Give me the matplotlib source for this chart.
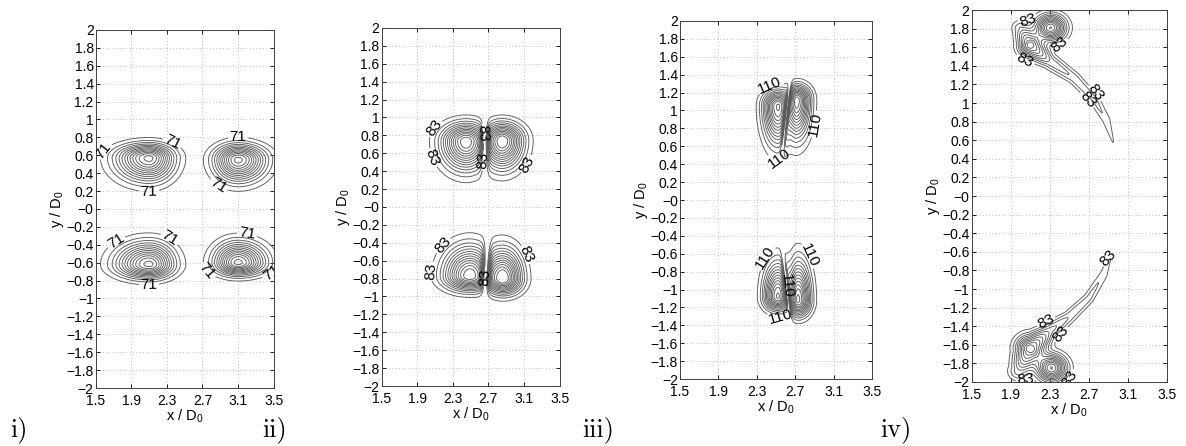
import numpy as np
import matplotlib.pyplot as plt

plt.rcParams["font.family"] = ["Liberation Sans", "DejaVu Sans"]
plt.rcParams["mathtext.fontset"] = "custom"
plt.rcParams["mathtext.rm"] = "Liberation Sans"
plt.rcParams["mathtext.it"] = "Liberation Sans"

# vortex cores: (cx, cy, amp, sx_left, sx_right, sy_down, sy_up)
BLOBS_I = [
    (2.10, 0.57, 950, 0.24, 0.18, 0.165, 0.10),
    (3.10, 0.55, 950, 0.17, 0.20, 0.155, 0.11),
    (2.10, -0.62, 950, 0.24, 0.18, 0.10, 0.155),
    (3.10, -0.60, 950, 0.17, 0.20, 0.09, 0.145),
]
BLOBS_II = [
    (2.45, 0.73, 1150, 0.18, 0.15, 0.20, 0.13),
    (2.86, 0.74, 1150, 0.12, 0.15, 0.195, 0.125),
    (2.49, -0.77, 1150, 0.19, 0.15, 0.105, 0.21),
    (2.87, -0.80, 1150, 0.12, 0.135, 0.11, 0.21),
]
BLOBS_III = [
    (2.52, 1.05, 1450, 0.10, 0.08, 0.27, 0.11),
    (2.72, 1.12, 1450, 0.06, 0.09, 0.27, 0.105),
    (2.52, -1.08, 1450, 0.095, 0.07, 0.10, 0.24),
    (2.73, -1.12, 1450, 0.06, 0.085, 0.115, 0.28),
]
BLOBS_IV = [
    (2.31, 1.81, 1000, 0.10, 0.10, 0.09, 0.09),
    (2.32, -1.85, 1000, 0.10, 0.10, 0.095, 0.095),
]

# dividing lines between paired lobes: (x0, y0, slope dx/dy, width)
GAPS_II = [(2.66, 0.72, 0.0, 0.03), (2.67, -0.78, 0.05, 0.03)]
GAPS_III = [(2.62, 1.08, 0.1, 0.014), (2.62, -1.08, -0.1, 0.014)]

# stretched filaments in the last frame: path points, amplitude, width
TAIL_UP_X = [2.00, 2.10, 2.30, 2.55, 2.75, 2.88, 2.95]
TAIL_UP_Y = [1.80, 1.62, 1.45, 1.27, 1.05, 0.82, 0.58]
TAIL_UP_A = [250, 800, 320, 230, 200, 150, 85]
TAIL_UP_W = [0.06, 0.08, 0.055, 0.045, 0.04, 0.035, 0.02]
TAIL_DN_X = [1.98, 2.10, 2.30, 2.50, 2.70, 2.85, 2.93]
TAIL_DN_Y = [-1.88, -1.64, -1.45, -1.30, -1.10, -0.85, -0.63]
TAIL_DN_A = [300, 900, 380, 240, 200, 150, 85]
TAIL_DN_W = [0.07, 0.095, 0.06, 0.045, 0.04, 0.035, 0.02]

LEVEL_STEP = [71, 83, 110, 83]
N_LEVELS = [14, 14, 14, 14]

LABELS_I = [(2.35, 0.72), (1.65, 0.60), (2.10, 0.20), (3.10, 0.79), (2.85, 0.22),
            (1.70, -0.32), (2.35, -0.30), (2.10, -0.83), (3.20, -0.29), (2.80, -0.65),
            (3.45, -0.68)]
LABELS_II = [(2.20, 0.80), (2.08, 0.55), (2.63, 0.82), (2.63, 0.52), (3.15, 0.47),
             (2.18, -0.42), (2.10, -0.72), (2.63, -0.78), (3.15, -0.52)]
LABELS_III = [(2.45, 1.25), (2.90, 0.85), (2.55, 0.45), (2.40, -0.65), (2.85, -0.62),
              (2.65, -0.95), (2.55, -1.30)]
LABELS_IV = [(2.10, 1.72), (2.42, 1.58), (2.05, 1.47), (2.78, 1.12), (2.68, 1.03),
             (2.88, -0.65), (2.25, -1.32), (2.38, -1.45), (2.05, -1.97), (2.45, -1.92)]

PANEL_NAMES = ["i)", "ii)", "iii)", "iv)"]
PANEL_NAME_X = [0.009, 0.221, 0.491, 0.742]
AX_RECTS = [
    [0.0807, 0.130, 0.150, 0.803],
    [0.3218, 0.1345, 0.150, 0.803],
    [0.5734, 0.150, 0.1619, 0.803],
    [0.8193, 0.1435, 0.1644, 0.834],
]

x = np.linspace(1.45, 3.6, 430)
y = np.linspace(-2.1, 2.1, 840)
X, Y = np.meshgrid(x, y)


def blob(cx, cy, amp, sxl, sxr, syd, syu):
    sx = np.where(X < cx, sxl, sxr)
    sy = np.where(Y < cy, syd, syu)
    return amp * np.exp(-0.5 * (((X - cx) / sx) ** 2 + ((Y - cy) / sy) ** 2))


def gap(x0, y0, slope, w):
    xc = x0 + slope * (Y - y0)
    return 1 - np.exp(-0.5 * ((X - xc) / w) ** 2)


def ridge(px, py, amps, widths):
    out = np.zeros_like(X)
    for i in range(len(px) - 1):
        dx, dy = px[i + 1] - px[i], py[i + 1] - py[i]
        t = np.clip(((X - px[i]) * dx + (Y - py[i]) * dy) / (dx * dx + dy * dy), 0, 1)
        d2 = (X - px[i] - t * dx) ** 2 + (Y - py[i] - t * dy) ** 2
        a = amps[i] + t * (amps[i + 1] - amps[i])
        w = widths[i] + t * (widths[i + 1] - widths[i])
        out = np.maximum(out, a * np.exp(-0.5 * d2 / w ** 2))
    return out


def pair_field(blobs, gaps):
    top = (blob(*blobs[0]) + blob(*blobs[1])) * gap(*gaps[0])
    bot = (blob(*blobs[2]) + blob(*blobs[3])) * gap(*gaps[1])
    return top + bot


fields = [
    sum(blob(*b) for b in BLOBS_I),
    pair_field(BLOBS_II, GAPS_II),
    pair_field(BLOBS_III, GAPS_III),
    sum(blob(*b) for b in BLOBS_IV)
    + ridge(TAIL_UP_X, TAIL_UP_Y, TAIL_UP_A, TAIL_UP_W)
    + ridge(TAIL_DN_X, TAIL_DN_Y, TAIL_DN_A, TAIL_DN_W),
]
label_pos = [LABELS_I, LABELS_II, LABELS_III, LABELS_IV]

xticks = [1.5, 1.9, 2.3, 2.7, 3.1, 3.5]
yticks = np.round(np.arange(-2, 2.01, 0.2), 1)

fig = plt.figure(figsize=(11.86, 4.46), dpi=100)

for k in range(4):
    ax = fig.add_axes(AX_RECTS[k])
    levels = LEVEL_STEP[k] * np.arange(1, N_LEVELS[k])
    ax.contour(X, Y, fields[k], levels=levels[1:], colors="#5a5a5a", linewidths=0.65)
    first = ax.contour(X, Y, fields[k], levels=levels[:1], colors="#5a5a5a", linewidths=0.65)
    ax.clabel(first, fmt="%d", fontsize=11, inline=True, inline_spacing=1,
              manual=label_pos[k], colors="black")
    ax.set_xlim(1.5, 3.5)
    ax.set_ylim(-2, 2)
    ax.set_xticks(xticks)
    ax.set_xticklabels([f"{v:g}" for v in xticks])
    ax.set_yticks(yticks)
    ax.set_yticklabels([f"{v:g}".replace("-", "\u2212") for v in yticks])
    ax.grid(True, linestyle=(0, (1, 3)), color="#a8a8a8", linewidth=0.6)
    ax.tick_params(direction="in", length=3, width=0.6, labelsize=10,
                   right=True, top=True)
    ax.tick_params(axis="x", pad=4)
    ax.tick_params(axis="y", pad=1.5)
    for s in ax.spines.values():
        s.set_linewidth(0.7)
        s.set_color("#404040")
    ax.set_xlabel("x / D$_0$", fontsize=10.5, labelpad=0)
    ax.set_ylabel("y / D$_0$", fontsize=10.5, labelpad=0)
    fig.text(PANEL_NAME_X[k], 0.022, PANEL_NAMES[k], fontsize=19,
             family=["cmr10", "DejaVu Serif"], va="baseline")

fig.savefig("out.png", dpi=100)
